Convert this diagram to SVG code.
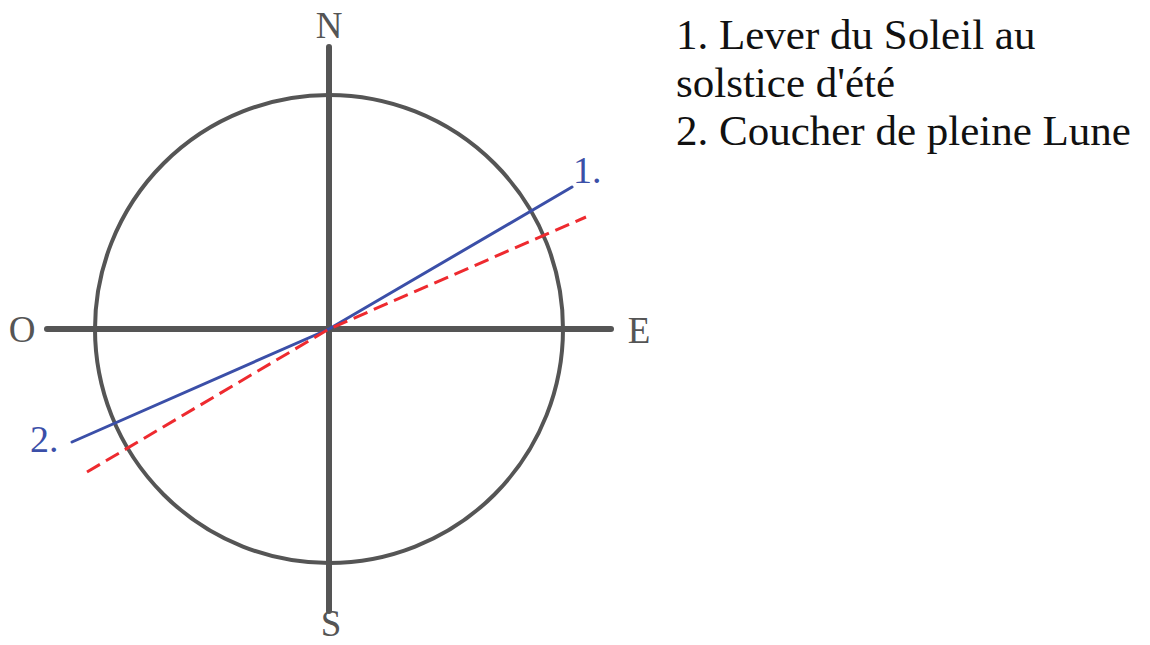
<svg xmlns="http://www.w3.org/2000/svg" width="1150" height="645" viewBox="0 0 1150 645">
<style>
.axis{stroke:#555;stroke-width:6;stroke-linecap:round;fill:none}
.circ{stroke:#555;stroke-width:4;fill:none}
.blue{stroke:#3b4fa8;stroke-width:3;fill:none;stroke-linecap:round}
.red{stroke:#ee2a2f;stroke-width:3;fill:none;stroke-dasharray:15 7}
.card{font-family:"Liberation Serif",serif;font-size:37px;fill:#555;text-anchor:middle}
.num{font-family:"Liberation Serif",serif;font-size:38px;fill:#3b4fa8}
.legend{font-family:"Liberation Serif",serif;font-size:43px;fill:#111}
</style>
<rect width="1150" height="645" fill="#fff"/>
<g id="compass">
<circle class="circ" cx="329" cy="329" r="234"/>
<line class="axis" x1="329" y1="47" x2="329" y2="611"/>
<line class="axis" x1="47" y1="329" x2="611" y2="329"/>
</g>
<g id="connectors">
<polyline id="line1" class="blue" points="72,442 329,329 572,187"/>
<polyline id="line2" class="red" points="87,472 329,329 586,217"/>
</g>
<g id="labels">
<text class="card" x="329" y="38">N</text>
<text class="card" x="331" y="636">S</text>
<text class="card" x="22" y="342">O</text>
<text class="card" x="639" y="343">E</text>
<text class="num" x="573" y="183">1.</text>
<text class="num" x="30" y="452">2.</text>
</g>
<g id="legend">
<text class="legend" x="676" y="49">1. Lever du Soleil au</text>
<text class="legend" x="676" y="97">solstice d'été</text>
<text class="legend" x="676" y="145">2. Coucher de pleine Lune</text>
</g>
</svg>
